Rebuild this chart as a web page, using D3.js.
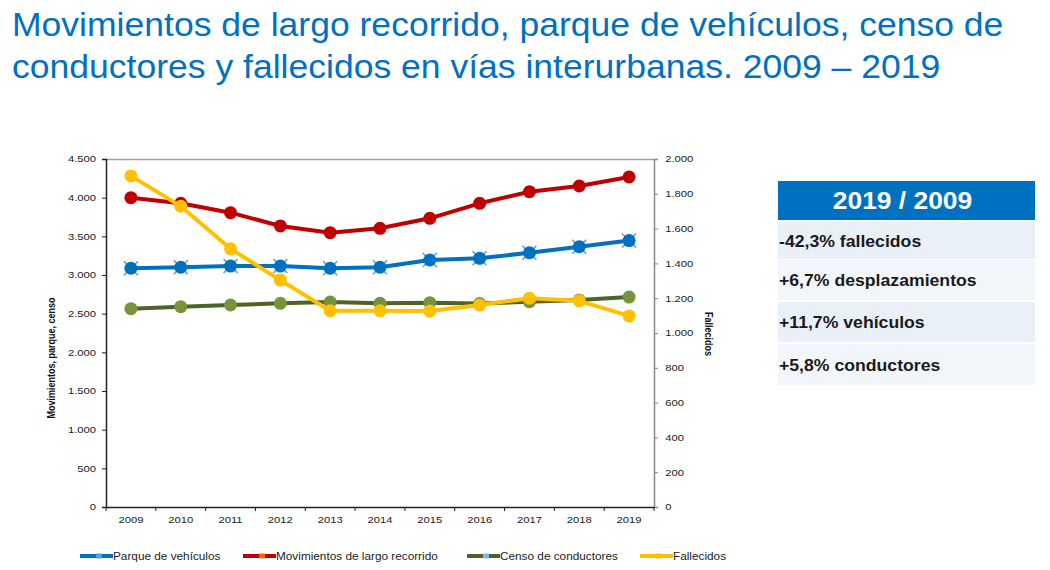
<!DOCTYPE html>
<html><head><meta charset="utf-8">
<script src="https://cdn.jsdelivr.net/npm/d3@7"></script>
<style>
body{margin:0;background:#fff;}
svg{display:block;font-family:"Liberation Sans",Arial,sans-serif;}
</style></head>
<body><svg id="c" width="1050" height="570"></svg>
<script>
const years = ["2009","2010","2011","2012","2013","2014","2015","2016","2017","2018","2019"];
const parque = [3087,3100,3116,3116,3087,3100,3194,3216,3288,3366,3445];
const movimientos = [4000,3927,3806,3634,3547,3604,3733,3927,4077,4151,4268];
const censo = [2565,2590,2612,2634,2652,2634,2642,2630,2655,2677,2714];
const fallecidos = [1903,1729,1484,1304,1128,1128,1126,1161,1200,1185,1098];
const leftTicks = [0,500,1000,1500,2000,2500,3000,3500,4000,4500];
const rightTicks = [0,200,400,600,800,1000,1200,1400,1600,1800,2000];
const titleLines = ["Movimientos de largo recorrido, parque de vehículos, censo de","conductores y fallecidos en vías interurbanas. 2009 – 2019"];
const tableHeader = "2019 / 2009";
const tableRows = ["-42,3% fallecidos","+6,7% desplazamientos","+11,7% vehículos","+5,8% conductores"];
const leftTitle = "Movimientos, parque, censo";
const rightTitle = "Fallecidos";

const series = [
  {name:"Parque de vehículos", values:parque, axis:"L", line:"#0070C0", fill:"#0070C0", star:"#5B9BD5", leg:"#5B9BD5"},
  {name:"Movimientos de largo recorrido", values:movimientos, axis:"L", line:"#C00000", fill:"#C00000", leg:"#E46C0A"},
  {name:"Censo de conductores", values:censo, axis:"L", line:"#4F6228", fill:"#77933C", leg:"#8DB4E2"},
  {name:"Fallecidos", values:fallecidos, axis:"R", line:"#FFC000", fill:"#FFC000", leg:"#FFC000"}
];

const loc = d3.formatLocale({decimal:",", thousands:".", grouping:[3], currency:["","€"]});
const fmt = loc.format(",d");

const svg = d3.select("#c");
const L = 106, R = 654, T = 159, B = 507;
const SX = 1.25;

// title
svg.append("g").selectAll("text").data(titleLines).join("text")
  .attr("transform", (d,i)=>`translate(12,${36 + i*42}) scale(1.077,1)`)
  .attr("fill", "#0070C0").attr("font-size", 33)
  .text(d=>d);

const x = d3.scaleBand().domain(years).range([L,R]);
const yL = d3.scaleLinear().domain([0,4500]).range([B,T]);
const yR = d3.scaleLinear().domain([0,2000]).range([B,T]);

// plot top border
svg.append("line").attr("x1",L).attr("x2",R).attr("y1",T+0.5).attr("y2",T+0.5)
  .attr("stroke","#A0A0A0").attr("stroke-width",1.5);

// left axis
const gL = svg.append("g").attr("transform",`translate(${L},0)`)
  .call(d3.axisLeft(yL).tickValues(leftTicks).tickFormat(fmt).tickSize(4).tickPadding(4));
gL.select(".domain").attr("stroke","#222").attr("stroke-width",1.5);
gL.selectAll(".tick line").attr("stroke","#222");
gL.selectAll("text").attr("font-size",9).attr("fill","#222").attr("transform",`scale(${SX},1)`);

// right axis
const gR = svg.append("g").attr("transform",`translate(${R},0)`)
  .call(d3.axisRight(yR).tickValues(rightTicks).tickFormat(fmt).tickSize(4).tickPadding(5));
gR.select(".domain").attr("stroke","#888").attr("stroke-width",1.5);
gR.selectAll(".tick line").attr("stroke","#888");
gR.selectAll("text").attr("font-size",9).attr("fill","#222").attr("transform",`scale(${SX},1)`);

// bottom axis labels
const gB = svg.append("g").attr("transform",`translate(0,${B})`)
  .call(d3.axisBottom(x).tickSize(0).tickPadding(10));
gB.select(".domain").attr("stroke","#222").attr("stroke-width",1.5);
gB.selectAll("text").attr("font-size",9).attr("fill","#222").attr("transform",`scale(${SX},1)`);
// bottom tick marks at category boundaries
const bounds = years.map(d=>x(d)).concat([x(years[years.length-1])+x.bandwidth()]);
svg.append("g").selectAll("line").data(bounds).join("line")
  .attr("x1",d=>d).attr("x2",d=>d).attr("y1",B).attr("y2",B+4)
  .attr("stroke","#222").attr("stroke-width",1);

// axis titles
svg.append("text").attr("transform","translate(55,358) rotate(-90) scale(1,1.2)")
  .attr("text-anchor","middle").attr("font-size",9).attr("font-weight","bold")
  .attr("fill","#111").text(leftTitle);
svg.append("text").attr("transform","translate(705,334) rotate(90) scale(1,1.2)")
  .attr("text-anchor","middle").attr("font-size",9).attr("font-weight","bold")
  .attr("fill","#111").text(rightTitle);

// series
const cx = d => x(d) + x.bandwidth()/2;
series.forEach(s=>{
  const ys = s.axis==="L" ? yL : yR;
  const pts = years.map((yr,i)=>[cx(yr), ys(s.values[i])]);
  const g = svg.append("g");
  g.append("path").attr("d", d3.line()(pts)).attr("fill","none")
    .attr("stroke", s.line).attr("stroke-width",4).attr("stroke-linejoin","round");
  if (s.star) {
    g.selectAll("path.star").data(pts).join("path").attr("class","star")
      .attr("d", p=>`M${p[0]-7},${p[1]-7}L${p[0]+7},${p[1]+7}M${p[0]-7},${p[1]+7}L${p[0]+7},${p[1]-7}`)
      .attr("stroke", s.star).attr("stroke-width",1.5);
  }
  g.selectAll("circle").data(pts).join("circle")
    .attr("cx",p=>p[0]).attr("cy",p=>p[1]).attr("r",6.5)
    .attr("fill", s.fill);
});

// legend
const legX = [80, 243, 467, 640];
const lg = svg.append("g").selectAll("g").data(series).join("g")
  .attr("transform",(d,i)=>`translate(${legX[i]},556)`);
lg.append("line").attr("x1",0).attr("x2",33).attr("y1",0).attr("y2",0)
  .attr("stroke",d=>d.line).attr("stroke-width",4);
lg.append("rect").attr("x",16).attr("y",-2.5).attr("width",6).attr("height",5)
  .attr("fill",d=>d.leg);
lg.append("text").attr("transform","translate(33,3.5) scale(1.18,1)").attr("font-size",10).attr("fill","#222")
  .text(d=>d.name);

// table
const tx = 778, tw = 257;
svg.append("rect").attr("x",tx).attr("y",181).attr("width",tw).attr("height",39).attr("fill","#0070C0");
svg.append("text").attr("transform",`translate(${tx+tw/2-4},209) scale(1.1,1)`).attr("text-anchor","middle")
  .attr("font-size",24).attr("font-weight","bold").attr("fill","#fff").text(tableHeader);
const rowY = [222, 260, 302, 344];
const rowH = [37, 40, 40, 41];
const rows = svg.append("g").selectAll("g").data(tableRows).join("g");
rows.append("rect").attr("x",tx).attr("y",(d,i)=>rowY[i]).attr("width",tw).attr("height",(d,i)=>rowH[i])
  .attr("fill",(d,i)=> i%2===0 ? "#E9F0F7" : "#F2F6FB");
rows.append("text").attr("transform",(d,i)=>`translate(${tx+1},${rowY[i]+rowH[i]/2+6}) scale(1.07,1)`)
  .attr("font-size",16.5).attr("font-weight","bold").attr("fill","#1a1a1a").text(d=>d);
</script></body></html>
